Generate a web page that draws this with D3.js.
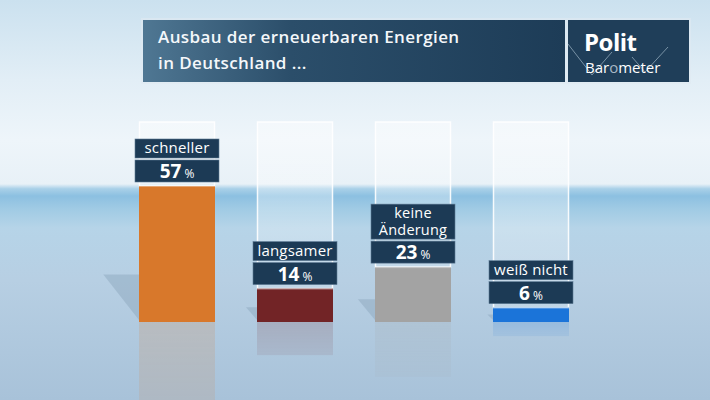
<!DOCTYPE html>
<html><head><meta charset="utf-8">
<script src="https://cdn.jsdelivr.net/npm/d3@7"></script>
<style>html,body{margin:0;padding:0;overflow:hidden;background:#bcd4e6}svg{display:block}</style>
</head><body>
<svg id="c" width="710" height="400"></svg>
<script>
const categories = ["schneller", "langsamer", "keine Änderung", "weiß nicht"];
const labelLines = [["schneller"], ["langsamer"], ["keine", "Änderung"], ["weiß nicht"]];
const values = [57, 14, 23, 6];
const colors = ["#d8782b", "#722426", "#a3a3a3", "#1b74d9"];
const titleLines = ["Ausbau der erneuerbaren Energien", "in Deutschland ..."];

const W = 710, H = 400;
const svg = d3.select("#c");
const defs = svg.append("defs");

// background gradient
const bg = defs.append("linearGradient").attr("id","bg").attr("x1",0).attr("y1",0).attr("x2",0).attr("y2",1);
[[0,"#cbe1ef"],[0.2,"#e2eef6"],[0.35,"#eef5fa"],[0.46,"#e8f1f7"],[0.472,"#a9d0e8"],[0.49,"#8cc0e1"],[0.52,"#9fcae4"],[0.57,"#b6d4e8"],[0.7,"#b7cfe3"],[1,"#a8c2d9"]]
  .forEach(([o,c])=>bg.append("stop").attr("offset",o).attr("stop-color",c));
svg.append("rect").attr("width",W).attr("height",H).attr("fill","url(#bg)");

// title gradient
const tg = defs.append("linearGradient").attr("id","tg").attr("x1",0).attr("y1",0).attr("x2",1).attr("y2",0);
[[0,"#4f7793"],[0.35,"#2b4e6a"],[1,"#1d3c57"]].forEach(([o,c])=>tg.append("stop").attr("offset",o).attr("stop-color",c));

// reflection fade mask
const rg = defs.append("linearGradient").attr("id","rg").attr("x1",0).attr("y1",0).attr("x2",0).attr("y2",1);
rg.append("stop").attr("offset",0).attr("stop-color","#fff").attr("stop-opacity",1);
rg.append("stop").attr("offset",1).attr("stop-color","#fff").attr("stop-opacity",0.5);
const mask = defs.append("mask").attr("id","fade").attr("maskContentUnits","objectBoundingBox");
mask.append("rect").attr("width",1).attr("height",1).attr("fill","url(#rg)");

// ghost column gradient
const gg = defs.append("linearGradient").attr("id","gg").attr("x1",0).attr("y1",0).attr("x2",0).attr("y2",1);
gg.append("stop").attr("offset",0).attr("stop-color","#fff").attr("stop-opacity",0.45);
gg.append("stop").attr("offset",1).attr("stop-color","#fff").attr("stop-opacity",0.15);

// title bar
svg.append("rect").attr("x",141).attr("y",18).attr("width",550).attr("height",66).attr("fill","#dfeaf2").attr("opacity",0.6);
svg.append("rect").attr("x",143).attr("y",20).attr("width",422).attr("height",62).attr("fill","url(#tg)");
svg.append("rect").attr("x",568).attr("y",20).attr("width",121).attr("height",62).attr("fill","#1f3e59");
svg.append("g").selectAll("text").data(titleLines).join("text")
  .attr("x",158).attr("y",(d,i)=>43+i*26)
  .attr("fill","#f4f7fa").attr("font-family","'Open Sans', sans-serif").attr("font-weight",600)
  .attr("font-size",17).attr("letter-spacing",0.4).text(d=>d);

// logo
const lg = svg.append("g");
lg.append("polyline").attr("points","568,44 592,75 612,52").attr("fill","none").attr("stroke","#8fa6b8").attr("stroke-width",1).attr("opacity",0.8);
lg.append("polyline").attr("points","632,57 645,72 668,47").attr("fill","none").attr("stroke","#8fa6b8").attr("stroke-width",1).attr("opacity",0.8);
lg.append("text").attr("x",584).attr("y",51).attr("fill","#fff").attr("font-family","'Open Sans', sans-serif").attr("font-weight",700).attr("font-size",24).attr("letter-spacing",-0.5).text("Polit");
const bt = lg.append("text").attr("x",585).attr("y",73).attr("fill","#fff").attr("font-family","'Open Sans', sans-serif").attr("font-size",15);
bt.append("tspan").text("Bar");
bt.append("tspan").attr("fill","#a9b8c4").text("o");
bt.append("tspan").text("meter");

// scales
const x = d3.scaleBand().domain(categories).range([80, 628]).paddingInner(0.356).paddingOuter(0.5);
const y = d3.scaleLinear().domain([0, 100]).range([322, 83.4]);
const ghostTop = 122;
const bw = x.bandwidth();

const g = svg.append("g");
// shadows
g.selectAll("path.sh").data(categories).join("path").attr("class","sh")
  .attr("d",(c,i)=>{
    const h = Math.min(y(0)-y(values[i]), 120)*0.38 + 2;
    const d = h*0.75;
    const x0 = x(c);
    return `M${x0},${y(0)-h} L${x0-d},${y(0)-h} L${x0},${y(0)-2} Z`;
  }).attr("fill","#8aa3ba").attr("opacity",0.45);

// reflections
g.selectAll("rect.rf").data(categories).join("rect").attr("class","rf")
  .attr("x",c=>x(c)).attr("width",bw).attr("y",y(0))
  .attr("height",(c,i)=>y(0)-y(values[i]))
  .attr("fill",(c,i)=>colors[i]).attr("opacity",0.17).attr("mask","url(#fade)");

// ghost columns
g.selectAll("rect.gh").data(categories).join("rect").attr("class","gh")
  .attr("x",c=>x(c)+0.5).attr("width",bw-1).attr("y",ghostTop)
  .attr("height",(c,i)=>y(values[i])-ghostTop)
  .attr("fill","url(#gg)").attr("stroke","#ffffff").attr("stroke-opacity",0.9).attr("stroke-width",1.5);

// bars
g.selectAll("rect.bar").data(categories).join("rect").attr("class","bar")
  .attr("x",c=>x(c)).attr("width",bw).attr("y",(c,i)=>y(values[i]))
  .attr("height",(c,i)=>y(0)-y(values[i]))
  .attr("fill",(c,i)=>colors[i]);
g.selectAll("line.hl").data(categories).join("line").attr("class","hl")
  .attr("x1",c=>x(c)).attr("x2",c=>x(c)+bw).attr("y1",(c,i)=>y(values[i])+0.5).attr("y2",(c,i)=>y(values[i])+0.5)
  .attr("stroke","#fff").attr("stroke-opacity",0.35);

// labels
const boxFill = "#1c3a55";
categories.forEach((c,i)=>{
  const top = y(values[i]);
  const bx = x(c) - 4, bwid = bw + 8;
  const vH = 22, vY = top - 4 - vH;
  const lines = labelLines[i];
  const nH = lines.length === 1 ? 19 : 35;
  const nY = vY - 2 - nH;
  const lab = g.append("g");
  lab.append("rect").attr("x",bx).attr("y",vY).attr("width",bwid).attr("height",vH).attr("fill",boxFill).attr("stroke","#5d7a93").attr("stroke-width",0.6);
  lab.append("rect").attr("x",bx).attr("y",nY).attr("width",bwid).attr("height",nH).attr("fill",boxFill).attr("stroke","#5d7a93").attr("stroke-width",0.6);
  const vt = lab.append("text").attr("x",x(c)+bw/2).attr("y",vY+18).attr("text-anchor","middle")
    .attr("fill","#fff").attr("font-family","'Open Sans', sans-serif");
  vt.append("tspan").attr("font-weight",700).attr("font-size",19).text(values[i]);
  vt.append("tspan").attr("font-size",12).attr("dx",3).text("%");
  const fs = lines.length === 1 ? 15 : 14.5;
  lines.forEach((l,j)=>{
    lab.append("text").attr("x",x(c)+bw/2).attr("y",nY+(lines.length===1?14.5:13.5)+j*17.5).attr("text-anchor","middle")
      .attr("fill","#fff").attr("font-family","'Open Sans', sans-serif").attr("font-size",fs).attr("letter-spacing",0.2).text(l);
  });
});
</script>
</body></html>
